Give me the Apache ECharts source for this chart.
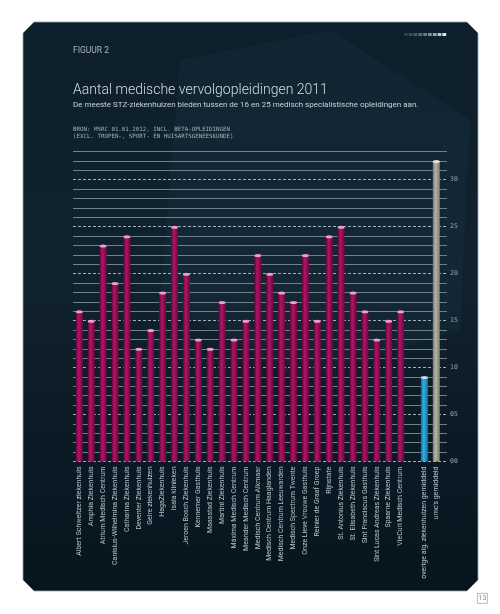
<!DOCTYPE html>
<html><head><meta charset="utf-8">
<script src="https://cdn.jsdelivr.net/npm/echarts@6/dist/echarts.min.js"></script>
<style>html,body{margin:0;padding:0;background:#fff}#c{width:500px;height:614px}</style>
</head><body><div id="c"></div><script>
const hospitals = ['Albert Schweitzer ziekenhuis','Amphia Ziekenhuis','Atrium Medisch Centrum','Canisius-Wilhelmina Ziekenhuis','Catharina Ziekenhuis','Deventer Ziekenhuis','Gelre ziekenhuizen','HagaZiekenhuis','Isala klinieken','Jeroen Bosch Ziekenhuis','Kennemer Gasthuis','Maasstad Ziekenhuis','Martini Ziekenhuis','Máxima Medisch Centrum','Meander Medisch Centrum','Medisch Centrum Alkmaar','Medisch Centrum Haaglanden','Medisch Centrum Leeuwarden','Medisch Spectrum Twente','Onze Lieve Vrouwe Gasthuis','Reinier de Graaf Groep','Rijnstate','St. Antonius Ziekenhuis','St. Elisabeth Ziekenhuis','Sint Franciscus Gasthuis','Sint Lucas Andreas Ziekenhuis','Spaarne Ziekenhuis','VieCuri Medisch Centrum'];
const hospitalValues = [16,15,23,19,24,12,14,18,25,20,13,12,17,13,15,22,20,18,17,22,15,24,25,18,16,13,15,16];
const benchmarkLabels = ['overige alg. ziekenhuizen gemiddeld', "umc's gemiddeld"];
const benchmarkValues = [9, 32];
const yMin = 0, yMax = 33, yLabelStep = 5;

const categories = hospitals.concat([''], benchmarkLabels);

function grad(a, b, c) {
  return new echarts.graphic.LinearGradient(0, 0, 1, 0, [
    {offset: 0, color: a}, {offset: 0.4, color: b}, {offset: 1, color: c}]);
}
const magenta = grad('#5a0631', '#b0146a', '#6a0839');
const blue = grad('#0f6c9c', '#2eb0e6', '#11719f');
const grey = grad('#77766c', '#b4b3a6', '#7c7b71');

const barData = hospitalValues.map(v => ({value: v, itemStyle: {color: magenta}}))
  .concat(['-'])
  .concat([{value: benchmarkValues[0], itemStyle: {color: blue}},
           {value: benchmarkValues[1], itemStyle: {color: grey}}]);
const capData = hospitalValues.map(v => ({value: v, itemStyle: {color: '#e7a3c9'}}))
  .concat(['-'])
  .concat([{value: benchmarkValues[0], itemStyle: {color: '#b5e2f6'}},
           {value: benchmarkValues[1], itemStyle: {color: '#e4e3da'}}]);

const squares = [];
const sqCols = ['#2e3d49','#3a4a57','#475866','#566775','#677886','#7d8d99','#98a6b0','#b9c4cb','#dfe6ea'];
sqCols.forEach((c, i) => squares.push({type: 'rect', left: 404 + i * 4.8, top: 33, shape: {width: 3.8, height: 3}, style: {fill: c}, z: 5}));

const chart = echarts.init(document.getElementById('c'), null, {renderer: 'canvas'});
chart.setOption({
  backgroundColor: '#ffffff',
  animation: false,
  graphic: [
    {type: 'polygon', z: -10, silent: true,
     shape: {points: [[34,22],[467,22],[478,33],[478,580],[467,591],[34,591],[23,580],[23,33]]},
     style: {fill: new echarts.graphic.LinearGradient(0, 0, 0, 1, [
       {offset: 0, color: '#0d1f2b'}, {offset: 0.45, color: '#10222e'}, {offset: 1, color: '#06141d'}]),
       stroke: '#8fa3b0', lineWidth: 0.8}},
    {type: 'polygon', z: -9, silent: true,
     shape: {points: [[180,60],[330,30],[470,120],[460,330],[300,380],[160,300]]},
     style: {fill: 'rgba(60,90,105,0.10)'}},
    ...squares,
    {type: 'text', left: 73, top: 46, z: 10, style: {text: 'FIGUUR 2', fill: '#aab6be', font: '8.5px Roboto'}},
    {type: 'text', left: 73, top: 83, z: 10, style: {text: 'Aantal medische vervolgopleidingen 2011', fill: '#d3dce1', font: '300 14px Roboto'}},
    {type: 'text', left: 73, top: 101, z: 10, style: {text: 'De meeste STZ-ziekenhuizen bieden tussen de 16 en 25 medisch specialistische opleidingen aan.', fill: '#c9d3d9', font: '8px Roboto'}},
    {type: 'text', left: 73, top: 126, z: 10, style: {text: 'BRON: MSRC 01.01.2012, INCL. BETA-OPLEIDINGEN\n(EXCL. TROPEN-, SPORT- EN HUISARTSGENEESKUNDE)', fill: '#a3b1ba', font: '5.8px "DejaVu Sans Mono"', lineHeight: 7}},
    {type: 'rect', left: 477, top: 593, z: 10, shape: {width: 10, height: 10}, style: {fill: '#ffffff', stroke: '#a8a8a8', lineWidth: 0.8}},
    {type: 'text', left: 478.5, top: 594.5, z: 11, style: {text: '13', fill: '#8a8a8a', font: '7px Roboto'}}
  ],
  grid: [
    {left: 73.35, width: 368.9, top: 151.5, height: 310},
    {left: 73, width: 374, top: 151.5, height: 310}
  ],
  xAxis: [
    {type: 'category', gridIndex: 0, data: categories,
     axisLine: {show: false}, axisTick: {show: false},
     axisLabel: {rotate: 90, interval: 0, color: '#b7c2c9', fontSize: 7, fontFamily: 'Roboto', margin: 5}},
    {type: 'value', gridIndex: 1, show: false, min: 0, max: 1}
  ],
  yAxis: [
    {type: 'value', gridIndex: 0, min: yMin, max: yMax, interval: 1, show: false},
    {type: 'value', gridIndex: 1, position: 'left', min: yMin, max: yMax, interval: 1,
     axisLine: {show: false}, axisTick: {show: false}, axisLabel: {show: false},
     splitLine: {show: true, lineStyle: {width: 1, color: ['rgba(0,0,0,0)','#6f818c','#6f818c','#6f818c','#6f818c']}}},
    {type: 'value', gridIndex: 1, position: 'right', min: yMin, max: yMax, interval: yLabelStep,
     axisLine: {show: false}, axisTick: {show: false},
     axisLabel: {color: '#93a3ad', fontSize: 6.5, fontFamily: '"DejaVu Sans Mono"', margin: 3, showMaxLabel: false,
                 formatter: v => (v % yLabelStep === 0 ? String(v).padStart(2, '0') : '')},
     splitLine: {show: true, showMaxLine: false, lineStyle: {width: 1, type: [3, 2], color: '#9fb0ba'}}}
  ],
  series: [
    {type: 'bar', xAxisIndex: 0, yAxisIndex: 0, data: barData, barWidth: 7, z: 3},
    {type: 'pictorialBar', xAxisIndex: 0, yAxisIndex: 0, data: capData, symbol: 'circle',
     symbolSize: [7, 3], symbolPosition: 'end', symbolOffset: [0, '-30%'], z: 4}
  ]
});
</script></body></html>
